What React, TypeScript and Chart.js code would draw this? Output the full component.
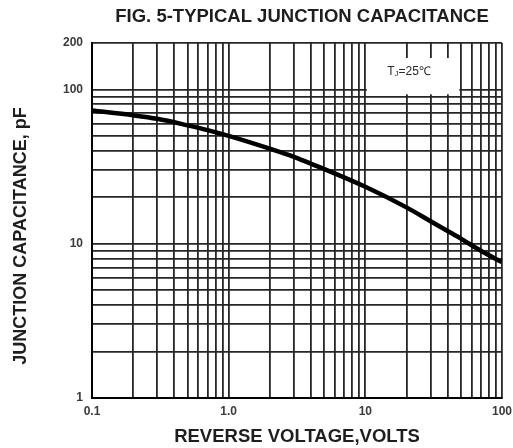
import React, { useEffect, useRef } from 'react';
import { Chart, registerables } from 'chart.js';

Chart.register(...registerables);

// ---- data ----
const voltage = [0.1, 0.2, 0.3, 0.5, 0.7, 1, 2, 3, 4, 5, 10, 20, 30, 40, 50, 70, 100];
const capacitance = [73, 68, 64.5, 58.5, 54.5, 50, 41.3, 36.6, 33, 30.5, 23.4, 17.2, 14, 12.1, 10.8, 9.0, 7.6];

const xTickValues = [0.1, 1, 10, 100];
const xTickLabels = ['0.1', '1.0', '10', '100'];
const yTickValues = [1, 10, 100, 200];
const yTickLabels = ['1', '10', '100', '200'];

const chartTitle = 'FIG. 5-TYPICAL JUNCTION CAPACITANCE';
const xTitle = 'REVERSE VOLTAGE,VOLTS';
const yTitle = 'JUNCTION CAPACITANCE, pF';
const noteMain = 'T';
const noteSub = 'J';
const noteRest = '=25\u2103';

const FONT = '"Liberation Sans", Arial, Helvetica, sans-serif';
const INK = '#1e1e1e';
const GRID = '#262626';

function gridValues(decades: number[], last: number[]): number[] {
  const out: number[] = [];
  decades.forEach((d) => {
    for (let k = 1; k <= 9; k++) out.push(Number((d * k).toPrecision(6)));
  });
  return out.concat(last);
}

function labelFor(v: number, values: number[], labels: string[]): string {
  for (let i = 0; i < values.length; i++) {
    if (Math.abs(v - values[i]) < values[i] * 1e-6) return labels[i];
  }
  return '';
}

const textPlugin = {
  id: 'textPlugin',
  beforeDatasetsDraw(chart: any) {
    const { ctx, chartArea, scales } = chart;
    const xs = scales.x;
    const ys = scales.y;
    // temperature note box covering part of the grid
    const bx0 = xs.getPixelForValue(10) + 1.5;
    const bx1 = xs.getPixelForValue(50) - 1.5;
    const by0 = chartArea.top + 15;
    const by1 = ys.getPixelForValue(93);
    ctx.save();
    ctx.fillStyle = '#ffffff';
    ctx.fillRect(bx0, by0, bx1 - bx0, by1 - by0);
    const cx = (bx0 + bx1) / 2 - 4;
    const cy = (by0 + by1) / 2 - 4;
    ctx.fillStyle = '#2a2a2a';
    ctx.textBaseline = 'middle';
    const mainFont = `12px ${FONT}`;
    const subFont = `8px ${FONT}`;
    ctx.font = mainFont;
    const wT = ctx.measureText(noteMain).width;
    const wR = ctx.measureText(noteRest).width;
    ctx.font = subFont;
    const wS = ctx.measureText(noteSub).width;
    let x = cx - (wT + wS + wR) / 2;
    ctx.textAlign = 'left';
    ctx.font = mainFont;
    ctx.fillText(noteMain, x, cy);
    x += wT;
    ctx.font = subFont;
    ctx.fillText(noteSub, x, cy + 2);
    x += wS;
    ctx.font = mainFont;
    ctx.fillText(noteRest, x, cy);
    ctx.restore();
  },
  afterDraw(chart: any) {
    const { ctx } = chart;
    ctx.save();
    ctx.fillStyle = INK;
    ctx.textAlign = 'center';
    ctx.textBaseline = 'middle';
    ctx.font = `bold 18.5px ${FONT}`;
    ctx.fillText(chartTitle, 302, 17);
    ctx.translate(21, 236);
    ctx.rotate(-Math.PI / 2);
    ctx.font = `bold 18px ${FONT}`;
    ctx.fillText(yTitle, 0, 0);
    ctx.restore();
  },
};

export default function App() {
  const canvasRef = useRef<HTMLCanvasElement | null>(null);

  useEffect(() => {
    const canvas = canvasRef.current;
    if (!canvas) return;
    const xGrid = gridValues([0.1, 1, 10], [100]);
    const yGrid = gridValues([1, 10], [100, 200]);
    const chart = new Chart(canvas, {
      type: 'line',
      data: {
        datasets: [
          {
            data: voltage.map((v, i) => ({ x: v, y: capacitance[i] })),
            borderColor: '#000000',
            borderWidth: 4.5,
            pointRadius: 0,
            fill: false,
            cubicInterpolationMode: 'monotone',
          },
        ],
      },
      plugins: [textPlugin],
      options: {
        responsive: false,
        animation: false,
        layout: { padding: { top: 43, right: 0, left: 0, bottom: 0 } },
        plugins: {
          legend: { display: false },
          title: { display: false },
          tooltip: { enabled: false },
        },
        scales: {
          x: {
            type: 'logarithmic',
            min: 0.1,
            max: 100,
            afterBuildTicks(scale: any) {
              scale.ticks = xGrid.map((v) => ({ value: v }));
            },
            afterFit(scale: any) {
              scale.height = 50;
              scale.paddingRight = 11;
              scale.paddingLeft = 0;
            },
            grid: { color: GRID, lineWidth: 1.8, drawTicks: false },
            border: { color: '#000', width: 2 },
            ticks: {
              autoSkip: false,
              maxRotation: 0,
              padding: 6,
              color: '#3a3a3a',
              font: { family: FONT, size: 12, weight: 'bold' },
              callback: (v: any) => labelFor(Number(v), xTickValues, xTickLabels),
            },
            title: {
              display: true,
              text: xTitle,
              color: INK,
              font: { family: FONT, size: 18.5, weight: 'bold' },
              padding: { top: 0, bottom: 0 },
            },
          },
          y: {
            type: 'logarithmic',
            min: 1,
            max: 200,
            afterBuildTicks(scale: any) {
              scale.ticks = yGrid.map((v) => ({ value: v }));
            },
            afterFit(scale: any) {
              scale.width = 92;
            },
            grid: { color: GRID, lineWidth: 1.8, drawTicks: false },
            border: { color: '#000', width: 2 },
            ticks: {
              autoSkip: false,
              padding: 9,
              color: '#3a3a3a',
              font: { family: FONT, size: 12, weight: 'bold' },
              callback: (v: any) => labelFor(Number(v), yTickValues, yTickLabels),
            },
          },
        },
      } as any,
    });
    return () => chart.destroy();
  }, []);

  return (
    <div style={{ position: 'fixed', left: 0, top: 0, width: 513, height: 448, background: '#fff' }}>
      <canvas ref={canvasRef} width={513} height={448} style={{ width: 513, height: 448 }} />
    </div>
  );
}
